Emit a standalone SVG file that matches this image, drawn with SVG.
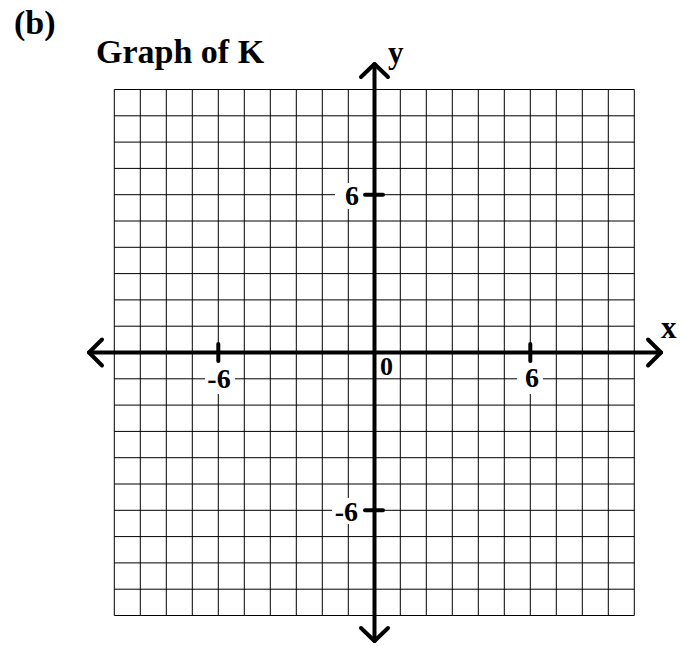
<svg xmlns="http://www.w3.org/2000/svg" width="681" height="646" viewBox="0 0 681 646">
<style>
.grid line{stroke:#000;stroke-width:1}
.ax{stroke:#000;stroke-width:4;fill:none;stroke-linecap:round;stroke-linejoin:round}
.t{font-family:"Liberation Serif","Times New Roman",serif;font-weight:bold;fill:#000}
.bg{fill:#fff}
</style>
<rect width="681" height="646" fill="#fff"/>
<g id="grid" class="grid">
<line x1="114.3" y1="89.5" x2="114.3" y2="615.5"/>
<line x1="140.3" y1="89.5" x2="140.3" y2="615.5"/>
<line x1="166.3" y1="89.5" x2="166.3" y2="615.5"/>
<line x1="192.3" y1="89.5" x2="192.3" y2="615.5"/>
<line x1="218.3" y1="89.5" x2="218.3" y2="615.5"/>
<line x1="244.3" y1="89.5" x2="244.3" y2="615.5"/>
<line x1="270.3" y1="89.5" x2="270.3" y2="615.5"/>
<line x1="296.3" y1="89.5" x2="296.3" y2="615.5"/>
<line x1="322.3" y1="89.5" x2="322.3" y2="615.5"/>
<line x1="348.3" y1="89.5" x2="348.3" y2="615.5"/>
<line x1="374.3" y1="89.5" x2="374.3" y2="615.5"/>
<line x1="400.3" y1="89.5" x2="400.3" y2="615.5"/>
<line x1="426.3" y1="89.5" x2="426.3" y2="615.5"/>
<line x1="452.3" y1="89.5" x2="452.3" y2="615.5"/>
<line x1="478.3" y1="89.5" x2="478.3" y2="615.5"/>
<line x1="504.3" y1="89.5" x2="504.3" y2="615.5"/>
<line x1="530.3" y1="89.5" x2="530.3" y2="615.5"/>
<line x1="556.3" y1="89.5" x2="556.3" y2="615.5"/>
<line x1="582.3" y1="89.5" x2="582.3" y2="615.5"/>
<line x1="608.3" y1="89.5" x2="608.3" y2="615.5"/>
<line x1="634.3" y1="89.5" x2="634.3" y2="615.5"/>
<line x1="114.3" y1="89.5" x2="634.3" y2="89.5"/>
<line x1="114.3" y1="115.8" x2="634.3" y2="115.8"/>
<line x1="114.3" y1="142.1" x2="634.3" y2="142.1"/>
<line x1="114.3" y1="168.4" x2="634.3" y2="168.4"/>
<line x1="114.3" y1="194.7" x2="634.3" y2="194.7"/>
<line x1="114.3" y1="221.0" x2="634.3" y2="221.0"/>
<line x1="114.3" y1="247.3" x2="634.3" y2="247.3"/>
<line x1="114.3" y1="273.6" x2="634.3" y2="273.6"/>
<line x1="114.3" y1="299.9" x2="634.3" y2="299.9"/>
<line x1="114.3" y1="326.2" x2="634.3" y2="326.2"/>
<line x1="114.3" y1="352.5" x2="634.3" y2="352.5"/>
<line x1="114.3" y1="378.8" x2="634.3" y2="378.8"/>
<line x1="114.3" y1="405.1" x2="634.3" y2="405.1"/>
<line x1="114.3" y1="431.4" x2="634.3" y2="431.4"/>
<line x1="114.3" y1="457.7" x2="634.3" y2="457.7"/>
<line x1="114.3" y1="484.0" x2="634.3" y2="484.0"/>
<line x1="114.3" y1="510.3" x2="634.3" y2="510.3"/>
<line x1="114.3" y1="536.6" x2="634.3" y2="536.6"/>
<line x1="114.3" y1="562.9" x2="634.3" y2="562.9"/>
<line x1="114.3" y1="589.2" x2="634.3" y2="589.2"/>
<line x1="114.3" y1="615.5" x2="634.3" y2="615.5"/>
</g>
<g id="label-bg">
<rect class="bg" x="335" y="183" width="29" height="26"/>
<rect class="bg" x="332" y="498" width="32" height="26"/>
<rect class="bg" x="205" y="362" width="30" height="32"/>
<rect class="bg" x="517" y="362" width="26" height="32"/>
<rect class="bg" x="377" y="355" width="22" height="22"/>
</g>
<g id="axes">
<line class="ax" x1="89" y1="352.5" x2="661" y2="352.5"/>
<polyline class="ax" points="102,339.5 89,352.5 102,365.5"/>
<polyline class="ax" points="648,339.5 661,352.5 648,365.5"/>
<line class="ax" x1="374.5" y1="64" x2="374.5" y2="641"/>
<polyline class="ax" points="361,77 374.5,64 388,77"/>
<polyline class="ax" points="361,628 374.5,641 388,628"/>
</g>
<g id="ticks">
<line class="ax" x1="218.3" y1="344" x2="218.3" y2="361"/>
<line class="ax" x1="530.3" y1="344" x2="530.3" y2="361"/>
<line class="ax" x1="365" y1="194.7" x2="383" y2="194.7"/>
<line class="ax" x1="365" y1="510.3" x2="383" y2="510.3"/>
</g>
<g id="labels">
<text class="t" x="14" y="34" font-size="34">(b)</text>
<text class="t" x="96" y="63" font-size="34">Graph of K</text>
<text class="t" x="388" y="63" font-size="31">y</text>
<text class="t" x="661" y="338" font-size="31">x</text>
<text class="t" x="359" y="205" font-size="28" text-anchor="end">6</text>
<text class="t" x="358" y="521" font-size="28" text-anchor="end">-6</text>
<text class="t" x="219" y="388" font-size="28" text-anchor="middle">-6</text>
<text class="t" x="532" y="387" font-size="28" text-anchor="middle">6</text>
<text class="t" x="380" y="375" font-size="26">0</text>
</g>
</svg>
